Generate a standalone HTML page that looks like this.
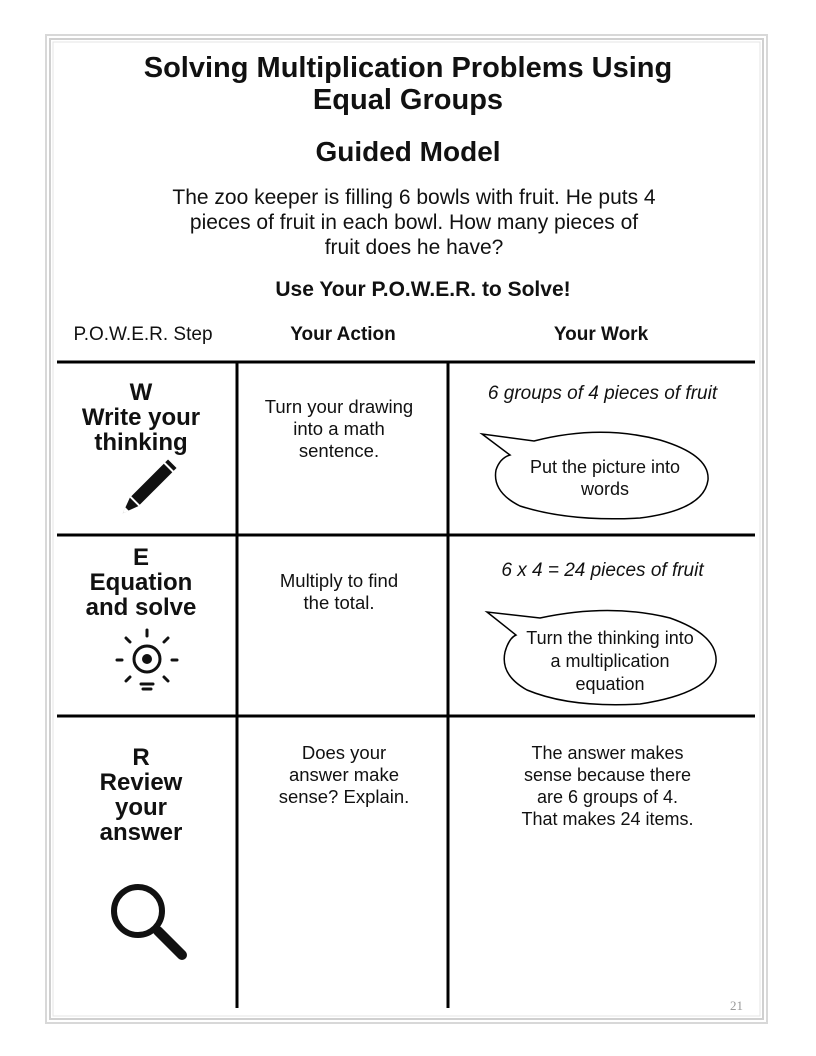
<!DOCTYPE html>
<html><head><meta charset="utf-8"><style>
body{margin:0;width:816px;height:1056px;background:#fff;position:relative;overflow:hidden;font-family:"Liberation Sans",sans-serif;color:#111}
.t{position:absolute;text-align:center;white-space:nowrap}
.h{font-weight:bold}
</style></head><body>
<svg width="816" height="1056" style="position:absolute;left:0;top:0">
<rect x="46" y="35" width="721" height="988" fill="none" stroke="#d8d8d8" stroke-width="2"/>
<rect x="50" y="39" width="713" height="980" fill="none" stroke="#d0d0d0" stroke-width="2"/>
<rect x="53" y="42" width="707" height="974" fill="none" stroke="#e4e4e4" stroke-width="1"/>
<g stroke="#000" stroke-width="3">
<line x1="57" y1="362" x2="755" y2="362"/>
<line x1="57" y1="535" x2="755" y2="535"/>
<line x1="57" y1="716" x2="755" y2="716"/>
<line x1="237" y1="362" x2="237" y2="1008"/>
<line x1="448" y1="362" x2="448" y2="1008"/>
</g>
<path d="M534 441 Q600 424 660 440 Q710 455 708 480 Q704 510 640 518 Q570 522 520 506 Q492 492 496 470 Q500 458 510 455 L482 434 Z" fill="#fff" stroke="#000" stroke-width="1.5"/>
<path d="M540 618 Q610 603 670 618 Q718 635 716 662 Q712 693 640 704 Q570 708 527 690 Q500 675 505 652 Q509 638 516 635 L487 612 Z" fill="#fff" stroke="#000" stroke-width="1.5"/>
<g transform="translate(144,492) rotate(45)">
<rect x="-6" y="-34" width="12" height="46" fill="#111"/>
<rect x="-6" y="-40" width="12" height="4" fill="#111"/>
<path d="M-6 14 L6 14 L0 30 Z" fill="#111"/>
<path d="M-2.5 24 L2.5 24 L0 30Z" fill="#fff"/>
</g>
<g stroke="#111" stroke-width="3" fill="none" stroke-linecap="round">
<circle cx="147" cy="659" r="13"/>
<line x1="147" y1="630" x2="147" y2="636"/>
<line x1="126" y1="638" x2="130" y2="642"/>
<line x1="168" y1="638" x2="164" y2="642"/>
<line x1="117" y1="660" x2="122" y2="660"/>
<line x1="172" y1="660" x2="177" y2="660"/>
<line x1="126" y1="681" x2="130" y2="677"/>
<line x1="168" y1="681" x2="164" y2="677"/>
<line x1="141" y1="684" x2="153" y2="684"/>
<line x1="143" y1="689" x2="151" y2="689"/>
</g>
<circle cx="147" cy="659" r="5" fill="#111"/>
<circle cx="138" cy="911" r="24" fill="none" stroke="#111" stroke-width="6"/>
<line x1="158" y1="931" x2="182" y2="955" stroke="#111" stroke-width="10" stroke-linecap="round"/>
</svg>
<div class="t h" style="left:0;width:816px;top:52px;font-size:29px;line-height:32px">Solving Multiplication Problems Using<br>Equal Groups</div>
<div class="t h" style="left:0;width:816px;top:136px;font-size:28px">Guided Model</div>
<div class="t" style="left:0;width:828px;top:185px;font-size:21px;line-height:25px">The zoo keeper is filling 6 bowls with fruit. He puts 4<br>pieces of fruit in each bowl. How many pieces of<br>fruit does he have?</div>
<div class="t" style="left:0;width:846px;top:278px;font-size:21px;font-weight:bold">Use Your P.O.W.E.R. to Solve!</div>
<div class="t" style="left:58px;width:170px;top:324px;font-size:19px">P.O.W.E.R. Step</div>
<div class="t" style="left:250px;width:186px;top:324px;font-size:19px;font-weight:bold">Your Action</div>
<div class="t" style="left:470px;width:262px;top:324px;font-size:19px;font-weight:bold">Your Work</div>
<div class="t h" style="left:57px;width:168px;top:380px;font-size:24px;line-height:25px">W<br>Write your<br>thinking</div>
<div class="t h" style="left:57px;width:168px;top:545px;font-size:24px;line-height:25px">E<br>Equation<br>and solve</div>
<div class="t h" style="left:57px;width:168px;top:745px;font-size:24px;line-height:25px">R<br>Review<br>your<br>answer</div>
<div class="t" style="left:239px;width:200px;top:396px;font-size:18.5px;line-height:22px">Turn your drawing<br>into a math<br>sentence.</div>
<div class="t" style="left:239px;width:200px;top:570px;font-size:18.5px;line-height:22px">Multiply to find<br>the total.</div>
<div class="t" style="left:239px;width:210px;top:742px;font-size:18.5px;line-height:22px">Does your<br>answer make<br>sense? Explain.</div>
<div class="t" style="left:450px;width:305px;top:383px;font-size:19px;font-style:italic">6 groups of 4 pieces of fruit</div>
<div class="t" style="left:500px;width:210px;top:456px;font-size:18px;line-height:22px">Put the picture into<br>words</div>
<div class="t" style="left:450px;width:305px;top:560px;font-size:19px;font-style:italic">6 x 4 = 24 pieces of fruit</div>
<div class="t" style="left:505px;width:210px;top:627px;font-size:18px;line-height:23px">Turn the thinking into<br>a multiplication<br>equation</div>
<div class="t" style="left:450px;width:315px;top:742px;font-size:18px;line-height:22px">The answer makes<br>sense because there<br>are 6 groups of 4.<br>That makes 24 items.</div>
<div class="t" style="left:730px;top:998px;font-size:13px;color:#999;font-family:'Liberation Serif',serif">21</div>
</body></html>
